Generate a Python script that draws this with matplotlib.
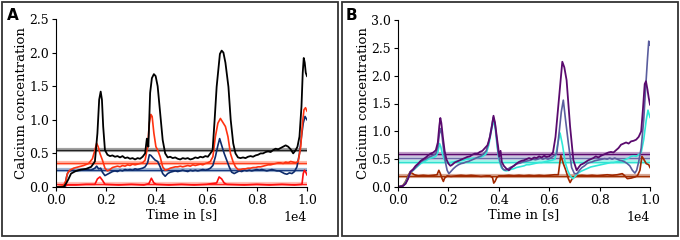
import matplotlib.pyplot as plt
from matplotlib.patches import Rectangle

# ---- panel A data (time in s, calcium concentration) ----
tA_black = [0, 300, 400, 500, 600, 800, 1000, 1200, 1400, 1550, 1650, 1720, 1780, 1830, 1880, 1950,
            2050, 2150, 2250, 2350, 2450, 2550, 2650, 2750, 2850, 2950, 3050, 3150, 3250, 3350, 3450,
            3550, 3620, 3680, 3750, 3820, 3900, 3970, 4050, 4150, 4250, 4350, 4450, 4550, 4650, 4750,
            4850, 4950, 5050, 5150, 5250, 5350, 5450, 5550, 5650, 5750, 5850, 5950, 6050, 6150, 6240,
            6320, 6400, 6530, 6600, 6670, 6750, 6870, 6960, 7060, 7150, 7250, 7350, 7450, 7550,
            7650, 7750, 7850, 7950, 8050, 8150, 8250, 8350, 8450, 8550, 8650, 8750, 8850, 8950, 9050,
            9150, 9250, 9350, 9450, 9550, 9620, 9700, 9780, 9830, 9870, 9910, 9950, 10000]
yA_black = [0, 0.0, 0.05, 0.12, 0.2, 0.24, 0.26, 0.27, 0.3, 0.38, 0.8, 1.3, 1.42, 1.3, 0.9, 0.55,
            0.48, 0.46, 0.47, 0.45, 0.46, 0.44, 0.46, 0.43, 0.44, 0.42, 0.43, 0.41, 0.43, 0.42, 0.45,
            0.5, 0.72, 0.6, 1.4, 1.62, 1.68, 1.65, 1.5, 1.1, 0.7, 0.5, 0.44, 0.45, 0.43, 0.44,
            0.42, 0.41, 0.43, 0.42, 0.43, 0.41, 0.42, 0.44, 0.43, 0.45, 0.44, 0.46, 0.45, 0.5, 0.55,
            1.0, 1.49, 1.98, 2.03, 2.0, 1.85, 1.49, 1.0, 0.65, 0.5, 0.44, 0.43, 0.44, 0.43,
            0.45, 0.46, 0.45, 0.47, 0.48, 0.5, 0.5, 0.52, 0.53, 0.52, 0.55, 0.57, 0.56, 0.58, 0.6,
            0.62, 0.6, 0.56, 0.5, 0.55, 0.6, 0.75, 1.2, 1.7, 1.92, 1.85, 1.7, 1.65]

tA_red = [0, 300, 400, 450, 550, 700, 900, 1100, 1300, 1450, 1550, 1620, 1680, 1750, 1850, 1950,
          2050, 2150, 2250, 2350, 2450, 2550, 2650, 2750, 2850, 2950, 3050, 3150, 3250, 3350, 3450,
          3550, 3650, 3720, 3780, 3830, 3900, 3980, 4050, 4150, 4250, 4350, 4450, 4550, 4650, 4750,
          4850, 4950, 5050, 5150, 5250, 5350, 5450, 5550, 5650, 5750, 5850, 5950, 6050, 6150, 6250,
          6350, 6450, 6550, 6650, 6750, 6850, 6950, 7050, 7150, 7250, 7350, 7450, 7550, 7650, 7750,
          7850, 7950, 8050, 8150, 8250, 8350, 8450, 8550, 8650, 8750, 8850, 8950, 9050, 9150, 9250,
          9350, 9450, 9550, 9650, 9750, 9820, 9880, 9940, 10000]
yA_red = [0, 0.02, 0.1, 0.2, 0.25, 0.28, 0.3, 0.32, 0.35, 0.42, 0.55, 0.65, 0.6, 0.5, 0.4, 0.28,
          0.24, 0.26, 0.29, 0.3, 0.31, 0.3, 0.32, 0.31, 0.33, 0.32, 0.34, 0.33, 0.34, 0.35, 0.36,
          0.4, 0.6, 0.95, 1.08, 1.05, 0.8, 0.6, 0.55, 0.45, 0.3, 0.25, 0.26, 0.28, 0.29, 0.3,
          0.3, 0.31, 0.3, 0.31, 0.32, 0.31, 0.33, 0.32, 0.33, 0.34, 0.33, 0.35, 0.36, 0.38, 0.45,
          0.75, 0.95, 1.02, 0.96, 0.9, 0.75, 0.5, 0.38, 0.3, 0.26, 0.26, 0.27, 0.27, 0.28, 0.28,
          0.29, 0.29, 0.3, 0.3, 0.31, 0.32, 0.33, 0.33, 0.34, 0.35, 0.36, 0.36, 0.35, 0.37, 0.36,
          0.38, 0.37, 0.36, 0.38, 0.6, 0.95, 1.15, 1.18, 1.13]

tA_blue = [0, 350, 420, 480, 550, 650, 800, 1000, 1200, 1400, 1550, 1620, 1700, 1780, 1850, 1950,
           2050, 2150, 2250, 2350, 2450, 2550, 2650, 2750, 2850, 2950, 3050, 3150, 3250, 3350, 3450,
           3550, 3650, 3720, 3780, 3850, 3950, 4050, 4150, 4250, 4350, 4450, 4550, 4650, 4750, 4850,
           4950, 5050, 5150, 5250, 5350, 5450, 5550, 5650, 5750, 5850, 5950, 6050, 6150, 6250, 6350,
           6450, 6520, 6600, 6700, 6800, 6900, 7000, 7100, 7200, 7300, 7400, 7500, 7600, 7700, 7800,
           7900, 8000, 8100, 8200, 8300, 8400, 8500, 8600, 8700, 8800, 8900, 9000, 9100, 9200, 9300,
           9400, 9500, 9600, 9700, 9780, 9850, 9920, 10000]
yA_blue = [0, 0, 0.15, 0.22, 0.24, 0.25, 0.24, 0.25, 0.26, 0.25, 0.28, 0.31, 0.27, 0.28, 0.22, 0.17,
           0.19, 0.21, 0.23, 0.24, 0.23, 0.25, 0.24, 0.26, 0.25, 0.26, 0.25, 0.27, 0.26, 0.27, 0.28,
           0.3, 0.36, 0.48, 0.47, 0.44, 0.4, 0.38, 0.3, 0.2, 0.16, 0.2, 0.22, 0.23, 0.24, 0.23,
           0.24, 0.25, 0.24, 0.23, 0.25, 0.24, 0.25, 0.24, 0.25, 0.26, 0.25, 0.26, 0.28, 0.32, 0.45,
           0.62, 0.72, 0.62, 0.5, 0.4, 0.3, 0.22, 0.2, 0.22, 0.24, 0.23, 0.25, 0.24, 0.25, 0.24,
           0.25, 0.26, 0.25, 0.26, 0.25, 0.24, 0.25, 0.26, 0.25, 0.24, 0.24, 0.22, 0.2, 0.19, 0.21,
           0.2, 0.23, 0.3, 0.5, 0.75, 0.95, 1.05, 1.0]

tA_low = [0, 300, 450, 800, 1200, 1550, 1650, 1750, 1850, 1950, 2500, 3000, 3500, 3700, 3800, 3900,
          4000, 4500, 5000, 5500, 6000, 6400, 6500, 6600, 6700, 6800, 7500, 8000, 8500, 9000, 9500,
          9800, 9850, 9900, 9950, 10000]
yA_low = [0, 0.0, 0.03, 0.03, 0.04, 0.04, 0.12, 0.15, 0.1, 0.04, 0.03, 0.04, 0.03, 0.05, 0.13, 0.06,
          0.04, 0.03, 0.04, 0.03, 0.04, 0.06, 0.15, 0.12, 0.06, 0.04, 0.03, 0.04, 0.03, 0.04, 0.03,
          0.04, 0.2, 0.25, 0.22, 0.18]

meansA = [0.55, 0.35, 0.26, 0.05]

# ---- panel B data ----
tB_purple = [0, 200, 300, 400, 500, 600, 700, 800, 900, 1000, 1100, 1200, 1300, 1400, 1500, 1580,
             1640, 1680, 1720, 1780, 1850, 1920, 2000, 2080, 2150, 2250, 2350, 2450, 2550, 2650, 2750,
             2850, 2950, 3050, 3150, 3250, 3350, 3450, 3550, 3650, 3730, 3790, 3850, 3920, 3980, 4020,
             4070, 4120, 4200, 4300, 4400, 4500, 4600, 4700, 4800, 4900, 5000, 5100, 5200, 5300, 5400,
             5500, 5600, 5700, 5800, 5900, 6000, 6070, 6150, 6250, 6350, 6450, 6520, 6600, 6690, 6830,
             6960, 7090, 7180, 7250, 7350, 7450, 7550, 7650, 7750, 7850, 7950, 8050,
             8150, 8250, 8350, 8450, 8550, 8650, 8750, 8850, 8950, 9050, 9150, 9250, 9350, 9450, 9550,
             9650, 9720, 9790, 9840, 9900, 9950, 10000]
yB_purple = [0, 0.02, 0.06, 0.15, 0.28, 0.32, 0.38, 0.42, 0.47, 0.5, 0.53, 0.57, 0.6, 0.62, 0.66, 0.8,
             1.1, 1.24, 1.15, 0.9, 0.65, 0.5, 0.42, 0.38, 0.4, 0.44, 0.46, 0.48, 0.5, 0.52, 0.54,
             0.55, 0.58, 0.6, 0.6, 0.63, 0.65, 0.7, 0.75, 0.9, 1.1, 1.28, 1.15, 0.9, 0.7, 0.55,
             0.65, 0.45, 0.38, 0.33, 0.3, 0.35, 0.38, 0.42, 0.45, 0.47, 0.48, 0.5, 0.52, 0.5, 0.53,
             0.52, 0.55, 0.53, 0.56, 0.54, 0.55, 0.58, 0.62, 0.9, 1.4, 1.9, 2.25, 2.15, 1.92, 1.08,
             0.48, 0.3, 0.36, 0.4, 0.42, 0.45, 0.48, 0.5, 0.52, 0.55, 0.53, 0.56,
             0.58, 0.6, 0.62, 0.63, 0.62, 0.66, 0.7, 0.76, 0.78, 0.8, 0.78, 0.82, 0.83, 0.85, 0.9,
             1.0, 1.4, 1.85, 1.9, 1.75, 1.6, 1.48]

tB_slate = [0, 200, 300, 400, 500, 600, 700, 800, 900, 1000, 1100, 1200, 1300, 1400, 1500, 1580,
            1640, 1690, 1740, 1800, 1880, 1950, 2020, 2100, 2200, 2300, 2400, 2500, 2600, 2700, 2800,
            2900, 3000, 3100, 3200, 3300, 3400, 3500, 3600, 3700, 3780, 3850, 3920, 3980, 4050, 4150,
            4250, 4350, 4450, 4550, 4650, 4750, 4850, 4950, 5050, 5150, 5250, 5350, 5450, 5550, 5650,
            5750, 5850, 5950, 6050, 6150, 6300, 6400, 6480, 6560, 6650, 6760, 6890, 7000,
            7100, 7200, 7300, 7400, 7500, 7600, 7700, 7800, 7900, 8000, 8100, 8200, 8300, 8400, 8500,
            8600, 8700, 8800, 8900, 9000, 9100, 9200, 9300, 9400, 9470, 9550, 9650, 9750, 9830, 9900,
            9950, 10000]
yB_slate = [0, 0.02, 0.06, 0.15, 0.27, 0.3, 0.35, 0.4, 0.45, 0.48, 0.5, 0.53, 0.55, 0.57, 0.6, 0.72,
            0.95, 1.05, 0.95, 0.7, 0.45, 0.3, 0.24, 0.28, 0.33, 0.37, 0.4, 0.42, 0.43, 0.45, 0.46,
            0.48, 0.5, 0.52, 0.54, 0.56, 0.6, 0.65, 0.8, 1.05, 1.25, 1.15, 0.85, 0.6, 0.45, 0.33,
            0.3, 0.32, 0.35, 0.37, 0.4, 0.42, 0.43, 0.45, 0.46, 0.47, 0.48, 0.5, 0.49, 0.5, 0.52,
            0.5, 0.52, 0.5, 0.52, 0.55, 0.6, 1.0, 1.35, 1.56, 1.2, 0.79, 0.35, 0.24,
            0.24, 0.3, 0.35, 0.38, 0.42, 0.44, 0.45, 0.47, 0.48, 0.49, 0.5, 0.51, 0.5, 0.52, 0.5,
            0.52, 0.5, 0.48, 0.47, 0.45, 0.42, 0.38, 0.3, 0.25, 0.3, 0.45, 0.7, 1.2, 1.8, 2.3,
            2.62, 2.55]

tB_cyan = [0, 200, 300, 400, 500, 600, 700, 800, 900, 1000, 1100, 1200, 1300, 1400, 1500, 1580,
           1650, 1700, 1760, 1830, 1900, 2000, 2100, 2200, 2300, 2400, 2500, 2600, 2700, 2800, 2900,
           3000, 3100, 3200, 3300, 3400, 3500, 3600, 3700, 3790, 3860, 3930, 4000, 4100, 4200, 4300,
           4400, 4500, 4600, 4700, 4800, 4900, 5000, 5100, 5200, 5300, 5400, 5500, 5600, 5700, 5800,
           5900, 6000, 6100, 6230, 6330, 6430, 6530, 6630, 6730, 6830, 6950, 7050, 7150,
           7250, 7350, 7450, 7550, 7650, 7750, 7850, 7950, 8050, 8150, 8250, 8350, 8450, 8550, 8650,
           8750, 8850, 8950, 9050, 9150, 9250, 9350, 9450, 9550, 9650, 9750, 9850, 9920, 10000]
yB_cyan = [0, 0.02, 0.08, 0.17, 0.27, 0.3, 0.34, 0.38, 0.42, 0.45, 0.47, 0.5, 0.52, 0.53, 0.55, 0.62,
           0.78, 0.72, 0.6, 0.5, 0.45, 0.43, 0.44, 0.45, 0.46, 0.47, 0.48, 0.48, 0.5, 0.5, 0.51,
           0.52, 0.52, 0.53, 0.54, 0.56, 0.6, 0.75, 1.0, 1.2, 1.05, 0.75, 0.5, 0.35, 0.3, 0.29,
           0.3, 0.32, 0.33, 0.35, 0.36, 0.37, 0.38, 0.4, 0.4, 0.41, 0.42, 0.43, 0.44, 0.44, 0.45,
           0.46, 0.47, 0.48, 0.5, 0.75, 0.97, 0.75, 0.45, 0.3, 0.2, 0.15, 0.2, 0.25,
           0.28, 0.3, 0.32, 0.34, 0.36, 0.37, 0.38, 0.39, 0.4, 0.41, 0.42, 0.43, 0.44, 0.44, 0.45,
           0.46, 0.47, 0.48, 0.5, 0.52, 0.55, 0.56, 0.55, 0.58, 0.62, 0.85, 1.2, 1.38, 1.25]

tB_brown = [0, 200, 300, 400, 480, 550, 650, 800, 1000, 1200, 1400, 1550, 1620, 1680, 1750, 1800,
            1850, 1950, 2100, 2300, 2500, 2700, 2900, 3100, 3300, 3500, 3650, 3750, 3800, 3850, 3920,
            4000, 4200, 4400, 4600, 4800, 5000, 5200, 5400, 5600, 5800, 6000, 6200, 6360, 6460, 6560,
            6660, 6760, 6830, 6900, 7000, 7100, 7300, 7500, 7700, 7900, 8100, 8300, 8500,
            8700, 8900, 9000, 9100, 9250, 9400, 9500, 9600, 9680, 9750, 9850, 9950, 10000]
yB_brown = [0, 0.03, 0.1, 0.2, 0.27, 0.25, 0.22, 0.2, 0.21, 0.2, 0.21, 0.22, 0.3, 0.24, 0.15, 0.1,
            0.16, 0.2, 0.19, 0.2, 0.21, 0.2, 0.21, 0.2, 0.19, 0.2, 0.2, 0.17, 0.07, 0.1, 0.17,
            0.2, 0.2, 0.21, 0.2, 0.21, 0.2, 0.21, 0.2, 0.21, 0.2, 0.21, 0.22, 0.22, 0.57, 0.42,
            0.3, 0.15, 0.08, 0.14, 0.18, 0.2, 0.21, 0.2, 0.21, 0.2, 0.21, 0.22, 0.21,
            0.22, 0.24, 0.2, 0.15, 0.16, 0.18, 0.2, 0.3, 0.55, 0.5, 0.42, 0.4, 0.35]

meansB = [0.6, 0.52, 0.45, 0.2]

serif = 'DejaVu Serif'

fig = plt.figure(figsize=(6.8, 2.4), dpi=100)

# panel frames
fig.patches.append(Rectangle((1.5 / 680, 4 / 240), 336 / 680, 234 / 240, transform=fig.transFigure,
                             fill=False, edgecolor='#333333', linewidth=1.3))
fig.patches.append(Rectangle((342 / 680, 4 / 240), 336 / 680, 234 / 240, transform=fig.transFigure,
                             fill=False, edgecolor='#333333', linewidth=1.3))

axA = fig.add_axes([56 / 680, 53 / 240, 251 / 680, 168 / 240])
axB = fig.add_axes([398 / 680, 53 / 240, 252 / 680, 167 / 240])


def style(ax, ymax):
    ax.set_xlim(0, 10000)
    ax.set_ylim(0, ymax)
    ax.set_yticks([i * 0.5 for i in range(int(ymax / 0.5) + 1)])
    ax.set_xticks([0, 2000, 4000, 6000, 8000, 10000])
    ax.ticklabel_format(axis='x', style='sci', scilimits=(0, 0))
    ax.yaxis.set_major_formatter(plt.FormatStrFormatter('%.1f'))
    ax.spines['top'].set_visible(False)
    ax.spines['right'].set_visible(False)
    ax.tick_params(length=3, width=0.8, labelsize=9, pad=2)
    for lab in ax.get_xticklabels() + ax.get_yticklabels():
        lab.set_family(serif)
    ax.xaxis.get_offset_text().set_family(serif)
    ax.xaxis.get_offset_text().set_size(9)
    ax.set_xlabel('Time in [s]', family=serif, fontsize=9.5, labelpad=1)
    ax.set_ylabel('Calcium concentration', family=serif, fontsize=9.5, labelpad=1)


# panel A
band_cols_A = ['#555555', '#ff8060', '#5a7fb0', '#ff9080']
line_cols_A = ['#222222', '#ff4020', '#1a3a80', '#ff2020']
for m, bc, lc in zip(meansA, band_cols_A, line_cols_A):
    axA.axhline(m, color=bc, lw=3, alpha=0.55, zorder=1)
    axA.axhline(m, color=lc, lw=0.9, zorder=1)
axA.plot(tA_low, yA_low, color='#ff1010', lw=1.2)
axA.plot(tA_blue, yA_blue, color='#0d2b6b', lw=1.2)
axA.plot(tA_red, yA_red, color='#ff3311', lw=1.2)
axA.plot(tA_black, yA_black, color='black', lw=1.3)
style(axA, 2.5)

# panel B
band_cols_B = ['#9a60a8', '#a8a8d0', '#70f0e0', '#c07050']
line_cols_B = ['#5a0a6e', '#6a6aa8', '#30e0d0', '#a03000']
for m, bc, lc in zip(meansB, band_cols_B, line_cols_B):
    axB.axhline(m, color=bc, lw=3, alpha=0.6, zorder=1)
    axB.axhline(m, color=lc, lw=0.9, zorder=1)
axB.plot(tB_brown, yB_brown, color='#a02800', lw=1.2)
axB.plot(tB_cyan, yB_cyan, color='#30e8d8', lw=1.2)
axB.plot(tB_slate, yB_slate, color='#5a5d9e', lw=1.2)
axB.plot(tB_purple, yB_purple, color='#5a0a6e', lw=1.3)
style(axB, 3.0)

fig.text(7 / 680, 1 - 20 / 240, 'A', fontsize=11, fontweight='bold', family='DejaVu Sans')
fig.text(346 / 680, 1 - 20 / 240, 'B', fontsize=11, fontweight='bold', family='DejaVu Sans')

fig.savefig('out.png', dpi=100)
